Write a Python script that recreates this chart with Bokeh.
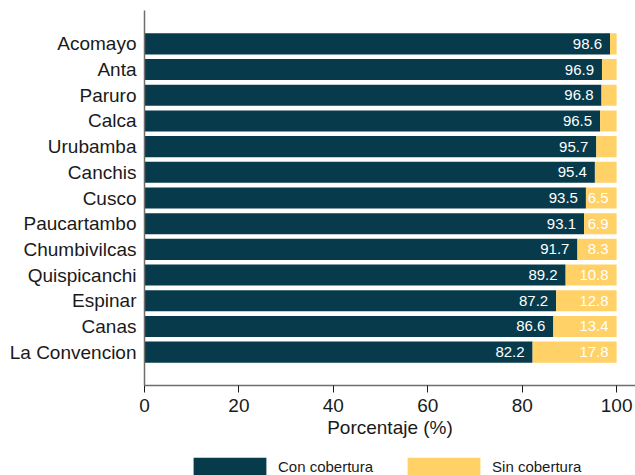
from bokeh.plotting import figure
from bokeh.layouts import column
from bokeh.models import ColumnDataSource, FactorRange, Range1d, Legend, LegendItem, FixedTicker
from bokeh.embed import file_html
from bokeh.resources import INLINE
from bokeh.core.properties import value

provincias = ["Acomayo", "Anta", "Paruro", "Calca", "Urubamba", "Canchis", "Cusco",
              "Paucartambo", "Chumbivilcas", "Quispicanchi", "Espinar", "Canas", "La Convencion"]
con_cobertura = [98.6, 96.9, 96.8, 96.5, 95.7, 95.4, 93.5, 93.1, 91.7, 89.2, 87.2, 86.6, 82.2]
sin_cobertura = [1.4, 3.1, 3.2, 3.5, 4.3, 4.6, 6.5, 6.9, 8.3, 10.8, 12.8, 13.4, 17.8]
x_ticks = [0, 20, 40, 60, 80, 100]
series_names = ["Con cobertura", "Sin cobertura"]

DARK = "#073b4c"
YELLOW = "#ffd166"
FONT = "Liberation Sans"
TXT = "#1a1a1a"

source = ColumnDataSource(data=dict(
    prov=provincias,
    con=con_cobertura,
    sin=sin_cobertura,
    total=[c + s for c, s in zip(con_cobertura, sin_cobertura)],
    con_label=[f"{v:.1f}" for v in con_cobertura],
    sin_label=[f"{v:.1f}" if v >= 5 else "" for v in sin_cobertura],
))

factors = list(reversed(provincias))

p = figure(width=635, height=445,
           y_range=FactorRange(factors=factors, range_padding=0.8,
                               range_padding_units="absolute"),
           x_range=Range1d(0, 104),
           output_backend="svg", toolbar_location=None,
           min_border_left=144, min_border_right=0, min_border_top=10, min_border_bottom=60)

renderers = p.hbar_stack(["con", "sin"], y="prov", height=0.82, color=[DARK, YELLOW],
                         line_color=None, source=source)

p.text(x="con", y="prov", text="con_label", source=source, text_align="right",
       text_baseline="middle", x_offset=-8, text_color="white",
       text_font=value(FONT), text_font_size="15px")
p.text(x="total", y="prov", text="sin_label", source=source, text_align="right",
       text_baseline="middle", x_offset=-8, text_color="white",
       text_font=value(FONT), text_font_size="15px")

p.xgrid.visible = False
p.ygrid.visible = False
p.outline_line_color = None
p.background_fill_color = "white"

xa = p.xaxis[0]
xa.ticker = FixedTicker(ticks=x_ticks)
xa.axis_label = "Porcentaje (%)"
xa.axis_label_text_font = FONT
xa.axis_label_text_font_size = "19px"
xa.axis_label_text_font_style = "normal"
xa.axis_label_text_color = TXT
xa.axis_label_standoff = 2
xa.major_label_text_font = FONT
xa.major_label_text_font_size = "19px"
xa.major_label_text_color = TXT
xa.major_label_standoff = 6
xa.major_tick_out = 7
xa.major_tick_in = 0
xa.minor_tick_out = 0
xa.minor_tick_in = 0
xa.axis_line_color = "#6e6e6e"
xa.axis_line_width = 1.5
xa.major_tick_line_color = TXT

ya = p.yaxis[0]
ya.major_label_text_font = FONT
ya.major_label_text_font_size = "19px"
ya.major_label_text_color = TXT
ya.major_label_standoff = 8
ya.major_tick_out = 0
ya.major_tick_in = 0
ya.axis_line_color = "#6e6e6e"
ya.axis_line_width = 1.5

# legend strip below the chart: same stacked series, kept outside its visible x-range
leg = figure(width=635, height=30, x_range=Range1d(-300, -200),
             y_range=FactorRange(factors=factors),
             output_backend="svg", toolbar_location=None, min_border=0)
leg.xaxis.visible = False
leg.yaxis.visible = False
leg.xgrid.visible = False
leg.ygrid.visible = False
leg.outline_line_color = None
leg_renderers = leg.hbar_stack(["con", "sin"], y="prov", height=0.82, color=[DARK, YELLOW],
                               line_color=None, source=source)

legend = Legend(items=[LegendItem(label=series_names[0], renderers=[leg_renderers[0]]),
                       LegendItem(label=series_names[1], renderers=[leg_renderers[1]])],
                orientation="horizontal", location=(40, -2),
                glyph_width=91, glyph_height=22, label_height=18, label_standoff=3, spacing=25,
                label_text_font=FONT, label_text_font_size="15px", label_text_color=TXT,
                border_line_color=None, padding=0, margin=0, background_fill_alpha=0)
leg.add_layout(legend, "center")

layout = column(p, leg, spacing=0)
open("out.html", "w").write(file_html(layout, INLINE))
